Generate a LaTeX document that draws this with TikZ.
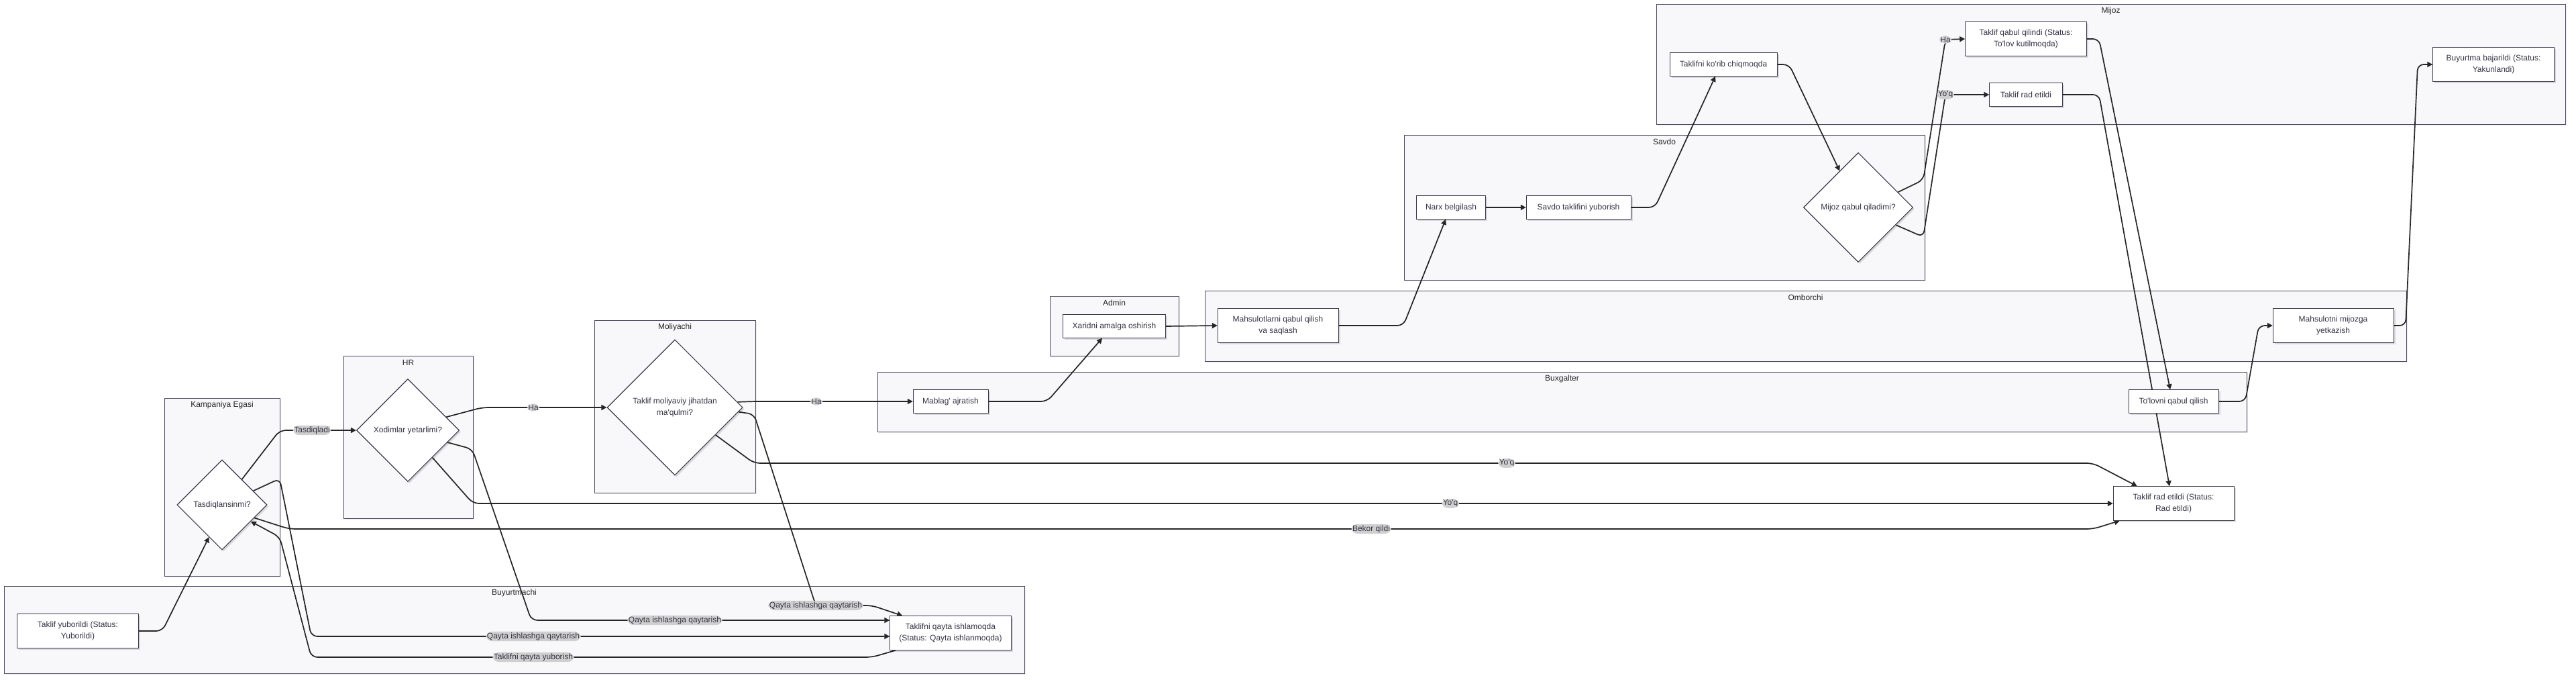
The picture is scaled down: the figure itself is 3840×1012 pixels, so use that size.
\documentclass[tikz,border=0pt]{standalone}
\usepackage{fontspec}
\newfontfamily\diafont{Liberation Sans}
\usetikzlibrary{arrows.meta,shapes.geometric,shadows}
\definecolor{lanefill}{HTML}{F8F8FA}
\definecolor{laneline}{HTML}{4B4A62}
\definecolor{nodeline}{HTML}{3A394E}
\definecolor{ink}{HTML}{333344}
\definecolor{tagfill}{HTML}{CFCFCF}
\pgfdeclarelayer{lanes}
\pgfdeclarelayer{flows}
\pgfsetlayers{lanes,flows,main}

\begin{document}
\begin{tikzpicture}[x=1pt,y=-1pt,font=\diafont\fontsize{12}{17}\selectfont,line width=1.3pt,
 lane/.style={draw=laneline,fill=lanefill,drop shadow={shadow xshift=2pt,shadow yshift=-2pt,fill=black,opacity=.07}},
 lanetitle/.style={text=black!85,inner sep=0pt},
 box/.style={draw=nodeline,fill=white,text=ink,align=center,minimum height=35pt,inner sep=2pt,
  drop shadow={shadow xshift=2.5pt,shadow yshift=-2.5pt,fill=black,opacity=.12}},
 box2/.style={box,minimum height=51pt},
 choice/.style={diamond,draw=nodeline,fill=white,text=ink,align=center,inner sep=0pt,line width=1.1pt,
  drop shadow={shadow xshift=2.5pt,shadow yshift=-2.5pt,fill=black,opacity=.12}},
 flow/.style={line width=1.7pt,draw=black!85,rounded corners=9pt,-{Triangle[length=8pt,width=8pt]}},
 tag/.style={fill=tagfill,text=ink,inner sep=1.5pt}]
\useasboundingbox (0,0) rectangle (3840,1012);

\begin{pgfonlayer}{lanes}
\foreach \key/\ttl/\xa/\ya/\xb/\yb in {
 buyurtmachi/Buyurtmachi/6/873/1527/1003,
 kampaniya/Kampaniya Egasi/245/593/417/858,
 hr/HR/512/530/705/772,
 moliyachi/Moliyachi/886/477/1126/734,
 buxgalter/Buxgalter/1308/554/3349/643,
 admin/Admin/1565/441/1757/530,
 omborchi/Omborchi/1796/433/3587/538,
 savdo/Savdo/2093/201/2869/417,
 mijoz/Mijoz/2469/6/3824/185}{
 \draw[lane] (\xa,\ya) rectangle (\xb,\yb);
 \node[lanetitle] (\key) at ({(\xa+\xb)/2},\ya+10) {\ttl};
}
\end{pgfonlayer}

\node[box2,minimum width=181pt] (tyub) at (116,940) {Taklif yuborildi (Status:\\Yuborildi)};
\node[box2,minimum width=181pt] (tqi) at (1417,943) {Taklifni qayta ishlamoqda\\(Status: Qayta ishlanmoqda)};
\node[choice,minimum width=134pt,minimum height=134pt] (tasd) at (331,752) {Tasdiqlansinmi?};
\node[choice,minimum width=153pt,minimum height=153pt] (xod) at (608,641) {Xodimlar yetarlimi?};
\node[choice,minimum width=202pt,minimum height=202pt] (mol) at (1006,607) {Taklif moliyaviy jihatdan\\ma'qulmi?};
\node[box,minimum width=112pt] (mab) at (1417,598) {Mablag' ajratish};
\node[box,minimum width=134pt] (tolov) at (3240,598) {To'lovni qabul qilish};
\node[box,minimum width=153pt] (xarid) at (1661,486) {Xaridni amalga oshirish};
\node[box2,minimum width=180pt] (mahsq) at (1905,485) {Mahsulotlarni qabul qilish\\va saqlash};
\node[box2,minimum width=180pt] (mahsy) at (3478,485) {Mahsulotni mijozga\\yetkazish};
\node[box,minimum width=103pt] (narx) at (2163,309) {Narx belgilash};
\node[box,minimum width=156pt] (savt) at (2353,309) {Savdo taklifini yuborish};
\node[choice,minimum width=163pt,minimum height=163pt] (mqq) at (2770,309) {Mijoz qabul qiladimi?};
\node[box,minimum width=160pt] (korib) at (2569,96) {Taklifni ko'rib chiqmoqda};
\node[box2,minimum width=181pt] (tqab) at (3020,58) {Taklif qabul qilindi (Status:\\To'lov kutilmoqda)};
\node[box,minimum width=109pt] (trad) at (3020,141) {Taklif rad etildi};
\node[box2,minimum width=181pt] (bajar) at (3717,96) {Buyurtma bajarildi (Status:\\Yakunlandi)};
\node[box2,minimum width=180pt] (radst) at (3240,750) {Taklif rad etildi (Status:\\Rad etildi)};

\begin{pgfonlayer}{flows}
\draw[flow] (tyub.east) -- (242,940) -- (tasd.248);
\draw[flow] (tasd.52) -- (417,641) -- (465,641) node[tag]{Tasdiqladi} -- (xod.west);
\draw[flow] (tasd.24) -- (417,713) -- (464,948) -- (795,948) node[tag]{Qayta ishlashga qaytarish} -- ([yshift=-5pt]tqi.west);
\draw[flow] ([xshift=9pt]tqi.south west) -- (1300,979) -- (795,979) node[tag]{Taklifni qayta yuborish} -- (464,979) -- (417,800) -- (tasd.330);
\draw[flow] (tasd.338) -- (431,788) -- (2044,788) node[tag]{Bekor qildi} -- (3120,788) -- ([xshift=10pt]radst.south west);
\draw[flow] (xod.19) -- (719,607) -- (795,607) node[tag]{Ha} -- (mol.west);
\draw[flow] (xod.343) -- (704,669) -- (792,924) -- (1006,924) node[tag]{Qayta ishlashga qaytarish} -- ([yshift=19pt]tqi.west);
\draw[flow] (xod.312) -- (705,750) -- (2162,750) node[tag]{Yo'q} -- (radst.west);
\draw[flow] (mol.5) -- (1124,598) -- (1217,598) node[tag]{Ha} -- (mab.west);
\draw[flow] (mol.356) -- (1124,617) -- (1216,902) node[tag]{Qayta ishlashga qaytarish} -- (1300,902) -- ([xshift=19pt]tqi.north west);
\draw[flow] (mol.326) -- (1124,690) -- (2246,690) node[tag]{Yo'q} -- (3120,690) -- ([xshift=36pt]radst.north west);
\draw[flow] (mab.east) -- (1561,598) -- ([xshift=-18pt]xarid.south);
\draw[flow] (xarid.east) -- (mahsq.west);
\draw[flow] (mahsq.east) -- (2092,485) -- ([xshift=-8pt]narx.south);
\draw[flow] (narx.east) -- (savt.west);
\draw[flow] (savt.east) -- (2467,309) -- ([xshift=-12pt]korib.south);
\draw[flow] (korib.east) -- (2667,96) -- (mqq.117);
\draw[flow] (mqq.21) -- (2867,268) -- (2900,59) node[tag]{Ha} -- (tqab.west);
\draw[flow] (mqq.335) -- (2867,353) -- (2900,141) node[tag]{Yo'q} -- (trad.west);
\draw[flow] (tqab.east) -- (3129,58) -- ([xshift=-5pt]tolov.north);
\draw[flow] (trad.east) -- (3129,141) -- ([xshift=-6pt]radst.north);
\draw[flow] (tolov.east) -- (3347,598) -- (3367,485) -- (mahsy.west);
\draw[flow] (mahsy.east) -- (3586,485) -- (3604,96) -- (bajar.west);
\end{pgfonlayer}
\end{tikzpicture}
\end{document}
